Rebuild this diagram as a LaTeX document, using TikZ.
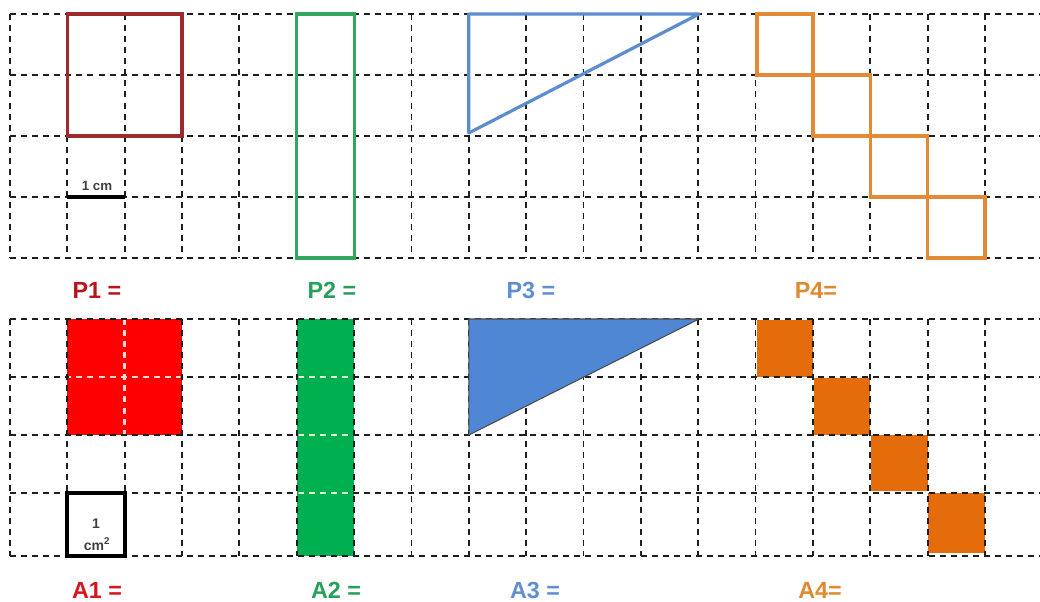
\documentclass[tikz,border=0pt]{standalone}
\usepackage{fontspec}
\setmainfont{Liberation Sans}
\definecolor{redline}{HTML}{9E2A2B}
\definecolor{greenline}{HTML}{33A65F}
\definecolor{blueline}{HTML}{5B8DD0}
\definecolor{orangeline}{HTML}{E58A34}
\definecolor{redfill}{HTML}{FF0000}
\definecolor{greenfill}{HTML}{00B050}
\definecolor{bluefill}{HTML}{4F87D4}
\definecolor{orangefill}{HTML}{E46C0A}
\definecolor{pone}{HTML}{B8141C}
\definecolor{aone}{HTML}{D6161C}
\definecolor{lgreen}{HTML}{27A05A}
\definecolor{lblue}{HTML}{5F8FCF}
\definecolor{lorange}{HTML}{E08A30}
\definecolor{gridc}{HTML}{1E1E1E}
\begin{document}
\begin{tikzpicture}[x=0.75pt,y=-0.75pt,
  gridline/.style={draw=gridc,line width=1.4pt,dash pattern=on 4.5pt off 3.8pt},
  whitegrid/.style={draw=white!85!red,line width=2pt,dash pattern=on 4.5pt off 3.8pt},
  whitegridg/.style={draw=white!85!green,line width=2pt,dash pattern=on 4.5pt off 3.8pt},
  shapeline/.style={line width=2.4pt},
  lbl/.style={font=\fontsize{17.5}{19}\selectfont\bfseries,inner sep=0pt}]
\useasboundingbox (0,0) rectangle (1040,602);
\fill[white] (0,0) rectangle (1040,602);
% ---------- bottom fills (under grid) ----------
\fill[redfill] (67.35,319) rectangle (182.05,435);
\fill[greenfill] (296.75,319) rectangle (354.1,556);
\fill[orangefill] (757,320) rectangle (812.9,377);
\fill[orangefill] (813.5,378) rectangle (870.25,435);
\fill[orangefill] (870.8,435.5) rectangle (927.6,491);
\fill[orangefill] (928.2,493) rectangle (984.95,553);
% ---------- top grid ----------
\foreach \r in {14,75,136,197,258} \draw[gridline] (10,\r) -- (1040,\r);
\foreach \k in {0,...,17} \draw[gridline] ({10+57.35*\k},14) -- ({10+57.35*\k},258);
% ---------- bottom grid ----------
\foreach \r in {319,377,435,493,556} \draw[gridline] (10,\r) -- (1040,\r);
\foreach \k in {0,...,17} \draw[gridline] ({10+57.35*\k},319) -- ({10+57.35*\k},556);
% light lines inside filled areas (same dash phase as the grid)
\begin{scope}
  \clip (69,320.5) rectangle (180.5,433.5);
  \draw[whitegrid] (10,377) -- (1040,377);
  \draw[whitegrid] (124.7,319) -- (124.7,556);
\end{scope}
\begin{scope}
  \clip (298.3,320.5) rectangle (352.6,554.5);
  \foreach \r in {377,435,493} \draw[whitegridg] (10,\r) -- (1040,\r);
\end{scope}
% ---------- top shapes ----------
\draw[shapeline,redline] (67.35,14) rectangle (182.05,136);
\draw[shapeline,greenline] (296.75,14) rectangle (354.1,258);
\draw[shapeline,blueline,line join=round] (468.8,14) -- (699,14) -- (468.8,133) -- cycle;
\draw[shapeline,orangeline] (757,14) rectangle (812.9,75);
\draw[shapeline,orangeline] (812.9,75) rectangle (870.25,136);
\draw[shapeline,orangeline] (870.25,136) rectangle (927.6,197);
\draw[shapeline,orangeline] (927.6,197) rectangle (984.95,258);
% 1 cm mark
\draw[black,line width=3pt] (67.35,197) -- (124.7,197);
\node[font=\fontsize{10}{11}\selectfont\bfseries,text=gridc!85,inner sep=0pt] (onecm) at (97,186) {1 cm};
% ---------- bottom triangle ----------
\filldraw[fill=bluefill,draw=black!70,line width=0.8pt] (468.8,319) -- (699,319) -- (468.8,435) -- cycle;
% 1 cm^2 box
\draw[black,line width=3pt] (67.35,493) rectangle (124.7,556);
\node[font=\fontsize{10.5}{11}\selectfont\bfseries,text=black!75,inner sep=0pt] (unitone) at (96,524) {1};
\node[font=\fontsize{10.5}{11}\selectfont\bfseries,text=black!75,inner sep=0pt] (unitcm) at (97,544) {cm\textsuperscript{2}};
% ---------- labels ----------
\node[lbl,text=pone] (pa) at (97,290) {P1 =};
\node[lbl,text=lgreen] (pb) at (332,290) {P2 =};
\node[lbl,text=lblue] (pc) at (531,290) {P3 =};
\node[lbl,text=lorange] (pd) at (816,290) {P4=};
\node[lbl,text=aone] (aa) at (97,590) {A1 =};
\node[lbl,text=lgreen] (ab) at (336,590) {A2 =};
\node[lbl,text=lblue] (ac) at (535,590) {A3 =};
\node[lbl,text=lorange] (ad) at (820,590) {A4=};
\end{tikzpicture}
\end{document}
